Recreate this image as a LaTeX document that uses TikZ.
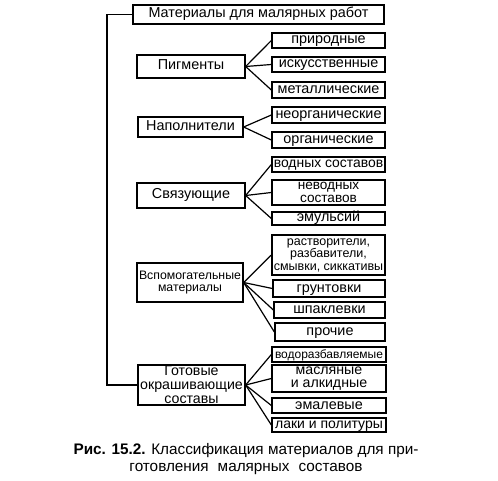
\documentclass[tikz,border=0pt]{standalone}
\usepackage{fontspec}
\setmainfont{Liberation Sans}
\begin{document}
\begin{tikzpicture}[x=1pt,y=-1pt,
  box/.style={draw, line width=1.3pt, inner sep=0pt, align=center,
    font=\fontsize{14.4}{12.5}\selectfont},
  sub/.style={box, minimum width=113pt},
  oneline/.style={text height=10pt, text depth=3pt},
  link/.style={line width=1.2pt},
  spine/.style={line width=1.8pt}]
\useasboundingbox (0,0) rectangle (498,481);
\fill[white] (0,0) rectangle (498,481);
% main
\node[box, oneline, minimum width=251pt, minimum height=19pt] (top) at (258.5,14.5) {Материалы для малярных работ};
% categories
\node[box, oneline, minimum width=108pt, minimum height=23pt] (pig) at (191,66.5) {Пигменты};
\node[box, oneline, minimum width=105pt, minimum height=20pt] (nap) at (190.5,127) {Наполнители};
\node[box, oneline, minimum width=108pt, minimum height=25pt] (svy) at (191,195.5) {Связующие};
\node[box, minimum width=106pt, minimum height=39pt, font=\fontsize{12.3}{12}\selectfont] (vsp) at (190,282.5) {Вспомогательные\\материалы};
\node[box, minimum width=107pt, minimum height=40pt, font=\fontsize{14.2}{14}\selectfont] (got) at (191.5,385) {Готовые\\окрашивающие\\составы};
% sub items
\node[sub, oneline, minimum height=15pt] (prir) at (328.5,40.5) {природные};
\node[sub, oneline, minimum height=15pt] (isk) at (328.5,64.5) {искусственные};
\node[sub, oneline, minimum height=16pt] (met) at (328.5,90) {металлические};
\node[sub, oneline, minimum height=16pt] (neorg) at (328.5,115) {неорганические};
\node[sub, oneline, minimum height=16pt] (org) at (328.5,140) {органические};
\node[sub, oneline, minimum height=15pt, font=\fontsize{13.9}{12}\selectfont] (vod) at (328.5,164.5) {водных составов};
\node[sub, minimum height=25pt, font=\fontsize{13.6}{13}\selectfont] (nevod) at (328.5,192.5) {неводных\\составов};
\node[sub, oneline, minimum height=13pt] (emul) at (328.5,218.5) {эмульсий};
\node[sub, minimum height=40pt, font=\fontsize{12.5}{12.5}\selectfont] (rastv) at (328.5,255) {растворители,\\разбавители,\\смывки, сиккативы};
\node[sub, oneline, minimum width=112pt, minimum height=17pt] (grunt) at (329,288.5) {грунтовки};
\node[sub, oneline, minimum width=111pt, minimum height=16pt] (shpak) at (329.5,310) {шпаклевки};
\node[sub, oneline, minimum width=110pt, minimum height=18pt] (proch) at (330,332) {прочие};
\node[sub, oneline, minimum width=114pt, minimum height=15pt, font=\fontsize{12}{12}\selectfont] (vodor) at (329,354.5) {водоразбавляемые};
\node[sub, minimum width=114pt, minimum height=27pt, font=\fontsize{14.2}{13}\selectfont] (masl) at (329,378.5) {масляные\\и алкидные};
\node[sub, oneline, minimum width=114pt, minimum height=15pt] (emal) at (329,405.5) {эмалевые};
\node[sub, oneline, minimum width=114pt, minimum height=14pt, font=\fontsize{14}{12}\selectfont] (laki) at (329,425) {лаки и политуры};
% spine
\draw[spine] (top.west) -- ++(-25,0) |- (got.west);
% links
\foreach \a/\b in {pig/prir, pig/isk, pig/met, nap/neorg, nap/org,
  svy/vod, svy/nevod, svy/emul, vsp/rastv, vsp/grunt, vsp/shpak, vsp/proch,
  got/vodor, got/masl, got/emal, got/laki}
  \draw[link] (\a.east) -- (\b.west);
% caption
\node[align=center, font=\fontsize{15.3}{16.5}\selectfont, inner sep=0pt] (cap) at (246,459)
  {\textbf{Рис. 15.2.} Классификация материалов для при-\\готовления\hspace{9pt}малярных\hspace{9pt}составов};
\end{tikzpicture}
\end{document}
